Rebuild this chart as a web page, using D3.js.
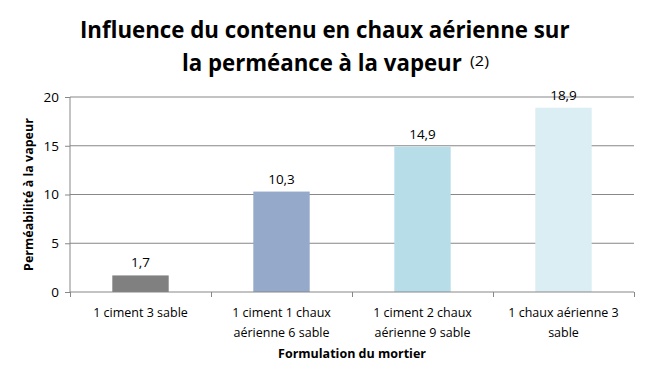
<html>
<script src="https://d3js.org/d3.v7.min.js"></script>
<style>
  body { margin: 0; background: #fff; }
  text { font-family: "Open Sans", "Noto Sans", sans-serif; fill: #000; }
</style>
<body>
<svg class="chart" width="650" height="380"></svg>
<script>
// data
var categories = [
  ["1 ciment 3 sable"],
  ["1 ciment 1 chaux", "aérienne 6 sable"],
  ["1 ciment 2 chaux", "aérienne 9 sable"],
  ["1 chaux aérienne 3", "sable"]
];
var values = [1.7, 10.3, 14.9, 18.9];
var labels = ["1,7", "10,3", "14,9", "18,9"];
var barColors = ["#808080", "#95a9cb", "#b7dde8", "#dbeef4"];
var yTicks = [0, 5, 10, 15, 20];

var margin = {top: 97, left: 70, right: 16, bottom: 88};
var width = 650 - margin.left - margin.right,
    height = 380 - margin.top - margin.bottom;

var svg = d3.select(".chart");
var g = svg.append("g")
  .attr("transform", "translate(" + margin.left + "," + margin.top + ")");

var x = d3.scaleBand().domain(d3.range(categories.length)).range([0, width]).paddingInner(0.6).paddingOuter(0.3);
var xTick = d3.scaleLinear().domain([0, categories.length]).range([0, width]);
var y = d3.scaleLinear().domain([0, 20]).range([height, 0]);

// gridlines
g.selectAll(".grid").data(yTicks.slice(1)).enter()
  .append("line")
    .attr("x1", 0).attr("x2", width)
    .attr("y1", function(d) { return y(d); })
    .attr("y2", function(d) { return y(d); })
    .attr("stroke", "#878787").attr("stroke-width", 1);

// bars
g.selectAll("rect").data(values).enter()
  .append("rect")
    .attr("x", function(d, i) { return x(i); })
    .attr("y", function(d) { return y(d); })
    .attr("width", x.bandwidth())
    .attr("height", function(d) { return height - y(d); })
    .attr("fill", function(d, i) { return barColors[i]; });

// value labels
g.selectAll(".val").data(values).enter()
  .append("text")
    .attr("x", function(d, i) { return x(i) + x.bandwidth() / 2; })
    .attr("y", function(d) { return y(d) - 8; })
    .attr("text-anchor", "middle")
    .style("font-size", "13.5px")
    .text(function(d, i) { return labels[i]; });

// y axis
var yAxis = g.append("g")
  .call(d3.axisLeft(y).tickValues(yTicks).tickSize(5).tickPadding(6));
yAxis.select(".domain").attr("stroke", "#878787").attr("d", "M0,0V" + height);
yAxis.selectAll(".tick line").attr("stroke", "#878787");
yAxis.selectAll("text").style("font-size", "13.5px").style("font-family", "Open Sans");

// x axis
var xAxis = g.append("g")
  .attr("transform", "translate(0," + height + ")")
  .call(d3.axisBottom(xTick).tickValues(d3.range(categories.length + 1)).tickSize(5).tickFormat(""));
xAxis.select(".domain").attr("stroke", "#878787").attr("d", "M0,0H" + width);
xAxis.selectAll(".tick line").attr("stroke", "#878787");

// category labels
var cat = g.selectAll(".cat").data(categories).enter()
  .append("text")
    .attr("text-anchor", "middle")
    .attr("transform", function(d, i) { return "translate(" + (x(i) + x.bandwidth() / 2) + "," + (height + 25) + ")"; })
    .style("font-size", "12.5px");
cat.selectAll("tspan").data(function(d) { return d; }).enter()
  .append("tspan")
    .attr("x", 0)
    .attr("dy", function(d, i) { return i == 0 ? 0 : 20; })
    .text(function(d) { return d; });

// axis titles
g.append("text")
  .attr("x", width / 2).attr("y", height + 66)
  .attr("text-anchor", "middle")
  .style("font-size", "12.5px").style("font-weight", "bold")
  .text("Formulation du mortier");

g.append("text")
  .attr("transform", "translate(-37," + (height / 2) + ") rotate(-90)")
  .attr("text-anchor", "middle")
  .style("font-size", "12.5px").style("font-weight", "bold")
  .text("Perméabilité à la vapeur");

// title: squeeze horizontally to mimic the condensed face of the original
function squeezed(str, left, base, targetWidth, size, weight) {
  var t = svg.append("text")
    .style("font-size", size).style("font-weight", weight)
    .text(str);
  var w = t.node().getComputedTextLength();
  t.attr("transform", "translate(" + left + "," + base + ") scale(" + (targetWidth / w) + ",1)");
  return t;
}
squeezed("Influence du contenu en chaux aérienne sur", 80, 38, 490, "23px", "bold");
squeezed("la perméance à la vapeur", 182, 71, 280, "23px", "bold");
squeezed("(2)", 470, 66, 19, "14px", "normal");
</script>
</body>
</html>
